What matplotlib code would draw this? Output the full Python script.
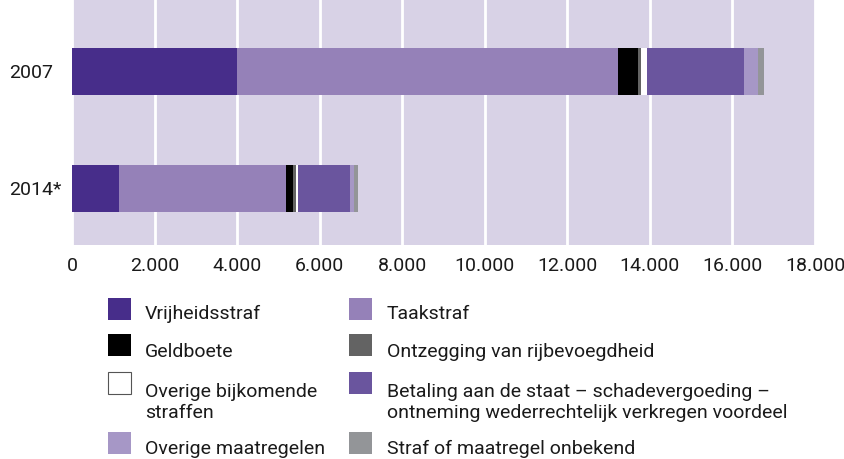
import matplotlib
matplotlib.use("Agg")
import matplotlib.pyplot as plt
from matplotlib.patches import Rectangle

# data
years = ["2007", "2014*"]
categories = [
    "Vrijheidsstraf",
    "Taakstraf",
    "Geldboete",
    "Ontzegging van rijbevoegdheid",
    "Overige bijkomende\nstraffen",
    "Betaling aan de staat \u2013 schadevergoeding \u2013\nontneming wederrechtelijk verkregen voordeel",
    "Overige maatregelen",
    "Straf of maatregel onbekend",
]
values_2007 = [4000, 9230, 480, 75, 145, 2350, 330, 155]
values_2014 = [1140, 4045, 170, 75, 50, 1260, 95, 95]
colors = ["#472d8a", "#9581b8", "#000000", "#636363", "#ffffff",
          "#6a559e", "#a697c6", "#939598"]
xticks = list(range(0, 18001, 2000))

plt.rcParams['font.family'] = ['Roboto', 'DejaVu Sans']

W, H = 844, 459
fig = plt.figure(figsize=(W / 100, H / 100), dpi=100)
ax = fig.add_axes([72 / W, 1 - 245 / H, 743 / W, 245 / H])
ax.set_facecolor("#d8d2e6")

data = [values_2007, values_2014]
for i in range(len(categories)):
    left = [sum(d[:i]) for d in data]
    width = [d[i] for d in data]
    ax.barh([0, 1], width, left=left, height=0.4, color=colors[i],
            edgecolor="none", zorder=3)

ax.set_xlim(0, 18000)
ax.set_ylim(1.483, -0.611)
ax.set_yticks([0, 1])
ax.set_yticklabels(years, ha="left")
ax.set_xticks(xticks)
ax.set_xticklabels(["0"] + [f"{t // 1000}.000" for t in xticks[1:]])
ax.tick_params(length=0, labelsize=14, colors="#1a1a1a")
ax.tick_params(axis="x", pad=8.5)
ax.tick_params(axis="y", pad=63 * 0.72)
ax.grid(axis="x", color="white", linewidth=2, zorder=1)
for s in ax.spines.values():
    s.set_visible(False)

# legend, drawn by hand (pixel positions)
col_x = [108, 349]
text_x = [145, 387]
box_top = [298, 334, 372, 432]
baseline = [319, 357, 397, 454]
for k, name in enumerate(categories):
    col = k % 2
    row = k // 2
    ec = "#555555" if colors[k] == "#ffffff" else "none"
    fig.patches.append(Rectangle((col_x[col] / W, 1 - (box_top[row] + 22) / H),
                                 23 / W, 22 / H, transform=fig.transFigure,
                                 facecolor=colors[k], edgecolor=ec, linewidth=0.8))
    lines = name.split("\n")
    for j, line in enumerate(lines):
        fig.text(text_x[col] / W, 1 - (baseline[row] + 21 * j) / H, line,
                 va="baseline", ha="left", fontsize=14, color="#1a1a1a")

fig.savefig("out.png", dpi=100)
